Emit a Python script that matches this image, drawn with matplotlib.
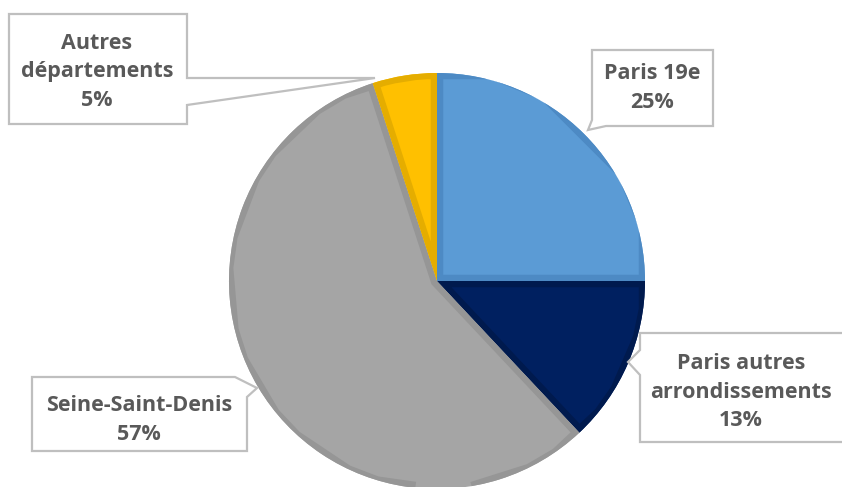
import matplotlib.pyplot as plt
from matplotlib.patches import Polygon

# Data
labels = ["Paris 19e", "Paris autres\narrondissements", "Seine-Saint-Denis", "Autres\ndépartements"]
shares = [25, 13, 57, 5]
colors = ["#5B9BD5", "#002060", "#A5A5A5", "#FFC000"]
edge_colors = ["#4D8AC4", "#001A4E", "#969696", "#E5AD00"]

W, H = 842, 487

fig = plt.figure(figsize=(W / 100, H / 100), dpi=100)
ax = fig.add_axes([0, 0, 1, 1])

# pie in pixel coordinates (y flipped)
cx, cy, r = 437, H - 281, 208
wedges, _ = ax.pie(shares, colors=colors, startangle=90, counterclock=False,
                   center=(cx, cy), radius=r, frame=True,
                   wedgeprops=dict(linewidth=0))

# inner darker border on each slice
for w, ec in zip(wedges, edge_colors):
    border = Polygon(w.get_path().vertices, closed=True, fill=False,
                     edgecolor=ec, linewidth=9, transform=w.get_transform())
    ax.add_patch(border)
    border.set_clip_path(w)

ax.set_xlim(0, W)
ax.set_ylim(0, H)
ax.set_aspect("equal")
ax.axis("off")


def callout(pts, text, tx, ty):
    # pts in pixel coords from top-left
    poly = Polygon([(x, H - y) for x, y in pts], closed=True, facecolor="white",
                   edgecolor="#BFBFBF", linewidth=1.6, zorder=5)
    ax.add_patch(poly)
    ax.text(tx, H - ty, text, ha="center", va="center", fontsize=15.5,
            fontweight="bold", family="Open Sans", color="#595959",
            linespacing=1.45, zorder=6)


pct = [f"{v}%" for v in shares]

# Autres départements (pointer on right side)
callout([(9, 14), (187, 14), (187, 78), (375, 78), (187, 105), (187, 124), (9, 124)],
        f"{labels[3]}\n{pct[3]}", 97, 72)

# Paris 19e (small pointer at bottom-left)
callout([(592, 50), (713, 50), (713, 126), (606, 126), (588, 130), (592, 120)],
        f"{labels[0]}\n{pct[0]}", 652, 88)

# Paris autres arrondissements (pointer on left side)
callout([(640, 333), (845, 333), (845, 442), (640, 442), (640, 375), (628, 362), (640, 350)],
        f"{labels[1]}\n{pct[1]}", 741, 392)

# Seine-Saint-Denis (pointer at top-right)
callout([(32, 377), (235, 377), (257, 388), (247, 397), (247, 451), (32, 451)],
        f"{labels[2]}\n{pct[2]}", 139, 420)

fig.savefig("out.png", dpi=100)
